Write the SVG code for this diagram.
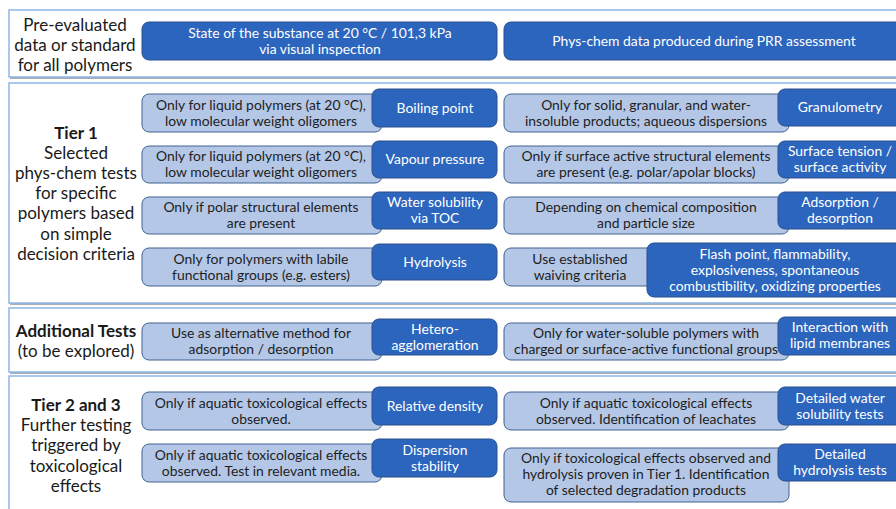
<svg xmlns="http://www.w3.org/2000/svg" width="896" height="509" viewBox="0 0 896 509">
<defs>
<style>
.shadow{fill:#a9adb3}
.panel{fill:#ffffff;stroke:#8db6e6;stroke-width:1.5}
.blue{fill:#2c65bd;stroke:#2a4f8c;stroke-width:1}
.light{fill:#b4c7e7;stroke:#40638f;stroke-width:1}
text{font-family:Lato,"Liberation Sans",sans-serif;text-anchor:middle}
.bt{fill:#ffffff;font-size:13.9px}
.lt{fill:#1e1e1e;font-size:13.9px}
.lab{fill:#1a1a1a;font-size:17px}
.b{font-weight:bold}
</style>
</defs>
<rect width="896" height="509" fill="#ffffff"/>
<g id="panels">
<rect class="shadow" x="10" y="12" width="900" height="67"/>
<rect class="panel" x="9" y="10" width="900" height="67"/>
<rect class="shadow" x="10" y="85" width="900" height="220"/>
<rect class="panel" x="9" y="83" width="900" height="220"/>
<rect class="shadow" x="10" y="310" width="900" height="64"/>
<rect class="panel" x="9" y="308" width="900" height="64"/>
<rect class="shadow" x="10" y="378" width="900" height="140"/>
<rect class="panel" x="9" y="376" width="900" height="140"/>
</g>
<g id="labels">
<g id="label-pre">
<text class="lab" x="75" y="31">Pre-evaluated</text>
<text class="lab" x="75" y="51">data or standard</text>
<text class="lab" x="75" y="71">for all polymers</text>
</g>
<g id="label-tier1">
<text class="lab b" x="76" y="139">Tier 1</text>
<text class="lab" x="76" y="159">Selected</text>
<text class="lab" x="76" y="179">phys-chem tests</text>
<text class="lab" x="76" y="199">for specific</text>
<text class="lab" x="76" y="219">polymers based</text>
<text class="lab" x="76" y="240">on simple</text>
<text class="lab" x="76" y="260">decision criteria</text>
</g>
<g id="label-additional">
<text class="lab b" x="76" y="337">Additional Tests</text>
<text class="lab" x="76" y="357">(to be explored)</text>
</g>
<g id="label-tier23">
<text class="lab b" x="76" y="411">Tier 2 and 3</text>
<text class="lab" x="76" y="431">Further testing</text>
<text class="lab" x="76" y="451">triggered by</text>
<text class="lab" x="76" y="472">toxicological</text>
<text class="lab" x="76" y="492">effects</text>
</g>
</g>
<g id="connectors"></g>
<g id="state">
<rect class="blue" x="142" y="22" width="355" height="38" rx="7"/>
<text class="bt" x="320" y="37.5">State of the substance at 20 °C / 101,3 kPa</text>
<text class="bt" x="320" y="53.5">via visual inspection</text>
</g>
<g id="physchem">
<rect class="blue" x="504" y="22" width="410" height="38" rx="7"/>
<text class="bt" x="704" y="45.5">Phys-chem data produced during PRR assessment</text>
</g>
<g id="boiling">
<rect class="light" x="142" y="94" width="240" height="38" rx="7"/>
<text class="lt" x="261" y="109.5">Only for liquid polymers (at 20 °C),</text>
<text class="lt" x="261" y="125.5">low molecular weight oligomers</text>
<rect class="blue" x="372" y="89" width="125" height="38" rx="7"/>
<text class="bt" x="435" y="112.5">Boiling point</text>
</g>
<g id="granulometry">
<rect class="light" x="504" y="94" width="285" height="38" rx="7"/>
<text class="lt" x="646" y="109.5">Only for solid, granular, and water-</text>
<text class="lt" x="646" y="125.5">insoluble products; aqueous dispersions</text>
<rect class="blue" x="778" y="89" width="130" height="37" rx="7"/>
<text class="bt" x="840" y="112">Granulometry</text>
</g>
<g id="vapour">
<rect class="light" x="142" y="146" width="240" height="37" rx="7"/>
<text class="lt" x="261" y="161">Only for liquid polymers (at 20 °C),</text>
<text class="lt" x="261" y="177">low molecular weight oligomers</text>
<rect class="blue" x="372" y="141" width="125" height="37" rx="7"/>
<text class="bt" x="435" y="164">Vapour pressure</text>
</g>
<g id="surface">
<rect class="light" x="504" y="146" width="285" height="37" rx="7"/>
<text class="lt" x="646" y="161">Only if surface active structural elements</text>
<text class="lt" x="646" y="177">are present (e.g. polar/apolar blocks)</text>
<rect class="blue" x="778" y="141" width="130" height="37" rx="7"/>
<text class="bt" x="840" y="156">Surface tension /</text>
<text class="bt" x="840" y="172">surface activity</text>
</g>
<g id="water-solubility">
<rect class="light" x="142" y="197" width="240" height="37" rx="7"/>
<text class="lt" x="261" y="212">Only if polar structural elements</text>
<text class="lt" x="261" y="228">are present</text>
<rect class="blue" x="372" y="192" width="125" height="37" rx="7"/>
<text class="bt" x="435" y="207">Water solubility</text>
<text class="bt" x="435" y="223">via TOC</text>
</g>
<g id="adsorption">
<rect class="light" x="504" y="197" width="285" height="37" rx="7"/>
<text class="lt" x="646" y="212">Depending on chemical composition</text>
<text class="lt" x="646" y="228">and particle size</text>
<rect class="blue" x="778" y="192" width="130" height="37" rx="7"/>
<text class="bt" x="840" y="207">Adsorption /</text>
<text class="bt" x="840" y="223">desorption</text>
</g>
<g id="hydrolysis">
<rect class="light" x="142" y="248" width="240" height="38" rx="7"/>
<text class="lt" x="261" y="263.5">Only for polymers with labile</text>
<text class="lt" x="261" y="279.5">functional groups (e.g. esters)</text>
<rect class="blue" x="372" y="244" width="125" height="36" rx="7"/>
<text class="bt" x="435" y="266.5">Hydrolysis</text>
</g>
<g id="flash-point">
<rect class="light" x="504" y="248" width="160" height="38" rx="7"/>
<text class="lt" x="580" y="263.5">Use established</text>
<text class="lt" x="580" y="279.5">waiving criteria</text>
<rect class="blue" x="647" y="243" width="270" height="54" rx="7"/>
<text class="bt" x="775" y="258.5">Flash point, flammability,</text>
<text class="bt" x="775" y="274.5">explosiveness, spontaneous</text>
<text class="bt" x="775" y="291">combustibility, oxidizing properties</text>
</g>
<g id="hetero">
<rect class="light" x="142" y="323" width="240" height="37" rx="7"/>
<text class="lt" x="261" y="338">Use as alternative method for</text>
<text class="lt" x="261" y="354">adsorption / desorption</text>
<rect class="blue" x="372" y="319" width="125" height="36" rx="7"/>
<text class="bt" x="435" y="333.5">Hetero-</text>
<text class="bt" x="435" y="349.5">agglomeration</text>
</g>
<g id="lipid">
<rect class="light" x="504" y="323" width="285" height="37" rx="7"/>
<text class="lt" x="646" y="338">Only for water-soluble polymers with</text>
<text class="lt" x="646" y="354">charged or surface-active functional groups</text>
<rect class="blue" x="778" y="317" width="130" height="38" rx="7"/>
<text class="bt" x="840" y="332">Interaction with</text>
<text class="bt" x="840" y="348">lipid membranes</text>
</g>
<g id="density">
<rect class="light" x="142" y="392" width="240" height="38" rx="7"/>
<text class="lt" x="261" y="407.5">Only if aquatic toxicological effects</text>
<text class="lt" x="261" y="423.5">observed.</text>
<rect class="blue" x="372" y="387" width="125" height="38" rx="7"/>
<text class="bt" x="435" y="410.5">Relative density</text>
</g>
<g id="detailed-water">
<rect class="light" x="504" y="392" width="285" height="38" rx="7"/>
<text class="lt" x="646" y="407.5">Only if aquatic toxicological effects</text>
<text class="lt" x="646" y="423.5">observed. Identification of leachates</text>
<rect class="blue" x="778" y="387" width="130" height="38" rx="7"/>
<text class="bt" x="840" y="402.5">Detailed water</text>
<text class="bt" x="840" y="418.5">solubility tests</text>
</g>
<g id="dispersion">
<rect class="light" x="142" y="444" width="240" height="38" rx="7"/>
<text class="lt" x="261" y="459.5">Only if aquatic toxicological effects</text>
<text class="lt" x="261" y="475.5">observed. Test in relevant media.</text>
<rect class="blue" x="372" y="439" width="125" height="38" rx="7"/>
<text class="bt" x="435" y="454.5">Dispersion</text>
<text class="bt" x="435" y="470.5">stability</text>
</g>
<g id="detailed-hydrolysis">
<rect class="light" x="504" y="448" width="285" height="54" rx="7"/>
<text class="lt" x="646" y="462.5">Only if toxicological effects observed and</text>
<text class="lt" x="646" y="478.5">hydrolysis proven in Tier 1. Identification</text>
<text class="lt" x="646" y="494.5">of selected degradation products</text>
<rect class="blue" x="778" y="444" width="130" height="37" rx="7"/>
<text class="bt" x="840" y="459">Detailed</text>
<text class="bt" x="840" y="475">hydrolysis tests</text>
</g>
</svg>
